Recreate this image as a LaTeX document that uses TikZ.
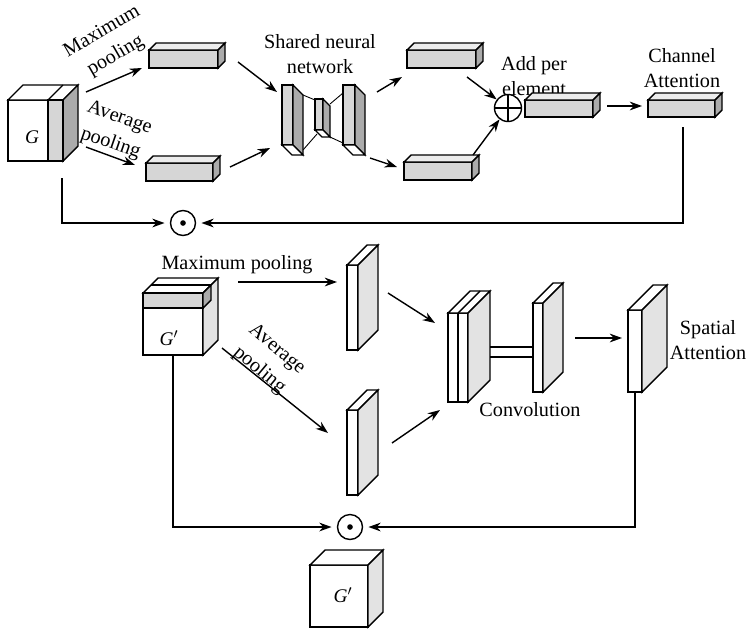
\documentclass[tikz,border=0pt]{standalone}
\usepackage{fontspec}
\setmainfont{Liberation Serif}
\usepackage{tikz}
\usetikzlibrary{arrows.meta}

\definecolor{facegray}{HTML}{D6D6D6}
\definecolor{topgray}{HTML}{ECECEC}
\definecolor{sidegray}{HTML}{ABABAB}
\definecolor{lightside}{HTML}{E3E3E3}

\tikzset{
  txt/.style={font=\fontsize{11.5}{14}\selectfont, align=center, inner sep=0pt},
  rtxt/.style={font=\fontsize{11.5}{15.5}\selectfont, align=center, inner sep=0pt},
  gtxt/.style={font=\fontsize{11}{13}\selectfont\itshape, inner sep=0pt},
  conn/.style={->, line width=0.8pt},
  odot/.style={draw, circle, line width=0.8pt, minimum size=0.5cm, inner sep=0pt},
  oplus/.style={draw, circle, line width=0.8pt, minimum size=0.54cm, inner sep=0pt,
    path picture={\draw (path picture bounding box.north) -- (path picture bounding box.south)
      (path picture bounding box.west) -- (path picture bounding box.east);}},
}

\begin{document}
\begin{tikzpicture}[x={(0.02cm,0)}, y={(0,-0.02cm)}, >={Stealth[length=7pt,width=5pt]}, line width=0.8pt]
    \useasboundingbox (0,0) rectangle (749,629);

    % box with top and right face: x, y, width, height, depth, front, top, side
    \newcommand{\featblock}[8]{
        \filldraw[fill=#6] (#1,#2) rectangle ++(#3,#4);
        \filldraw[fill=#7] (#1,#2) -- ++(#5,-#5) -- ++(#3,0) -- ++(-#5,#5) -- cycle;
        \filldraw[fill=#8] (#1+#3,#2) -- ++(#5,-#5) -- ++(0,#4) -- ++(-#5,#5) -- cycle;
    }
    % slab seen from below (shared network)
    \newcommand{\netslab}[5]{
        \filldraw[fill=facegray] (#1,#2) rectangle ++(#3,#4);
        \filldraw[fill=sidegray] (#1+#3,#2) -- ++(#5,#5) -- ++(0,#4) -- ++(-#5,-#5) -- cycle;
        \filldraw[fill=white] (#1,#2+#4) -- ++(#5,#5) -- ++(#3,0) -- ++(-#5,-#5) -- cycle;
    }

    % ---------- Channel attention (top) ----------
    % Input G
    \featblock{8}{100}{55}{61}{15}{white}{white}{sidegray}
    \filldraw[fill=facegray] (48,100) rectangle (63,161);
    \draw (48,100) -- ++(15,-15);
    \node[gtxt] (g) at (32,137) {G};

    % pooled vectors
    \featblock{149}{50}{69}{18}{7}{facegray}{topgray}{sidegray}
    \featblock{146}{163}{67}{18}{7}{facegray}{topgray}{sidegray}

    \node[rtxt, rotate=30] (lblmaxtop) at (109,44) {Maximum\\pooling};
    \node[rtxt, rotate=-19] (lblavgtop) at (115,131) {Average\\pooling};

    % shared network
    \draw[line width=0.5pt] (303,95) -- (315,100) (303,150) -- (317,134)
        (330,104) -- (343,93) (330,137) -- (343,143);
    \netslab{282}{85}{11}{60}{10}
    \netslab{315}{99}{8}{31}{7}
    \netslab{343}{85}{12}{60}{10}
    \node[txt] (lblshared) at (320,54) {Shared neural\\network};

    % network outputs
    \featblock{407}{50}{69}{18}{7}{facegray}{topgray}{sidegray}
    \featblock{404}{162}{68}{18}{7}{facegray}{topgray}{sidegray}

    \node[oplus] (plus) at (508,108) {};
    \node[txt] (lbladd) at (534,76) {Add per\\element};

    \featblock{525}{100}{68}{17}{7}{facegray}{topgray}{sidegray}
    \featblock{648}{100}{67}{17}{7}{facegray}{topgray}{sidegray}
    \node[txt] (lblchan) at (682,68) {Channel\\Attention};

    \node[odot] (dot1) at (183,223) {};
    \fill (dot1) circle (1.6pt);

    % arrow ends
    \coordinate (maxS) at (86,92);   \coordinate (maxE) at (142,68);
    \coordinate (avgS) at (86,147);  \coordinate (avgE) at (135,165);
    \coordinate (netS1) at (238,62); \coordinate (netE1) at (277,92);
    \coordinate (netS2) at (230,167); \coordinate (netE2) at (270,148);
    \coordinate (outS1) at (377,92); \coordinate (outE1) at (402,77);
    \coordinate (outS2) at (370,158); \coordinate (outE2) at (397,167);
    \coordinate (addS1) at (467,77);
    \coordinate (addS2) at (473,155);
    \coordinate (sumS) at (607,106); \coordinate (sumE) at (642,106);
    \coordinate (chanS) at (683,127);
    \coordinate (gS) at (62,178);

    \draw[conn] (maxS) -- (maxE);
    \draw[conn] (avgS) -- (avgE);
    \draw[conn] (netS1) -- (netE1);
    \draw[conn] (netS2) -- (netE2);
    \draw[conn] (outS1) -- (outE1);
    \draw[conn] (outS2) -- (outE2);
    \draw[conn] (addS1) -- (plus);
    \draw[conn] (addS2) -- (plus);
    \draw[conn] (sumS) -- (sumE);
    \draw[conn, shorten >=3pt] (chanS) |- (dot1);
    \draw[conn, shorten >=3pt] (gS) |- (dot1);

    % ---------- Spatial attention (bottom) ----------
    \featblock{143}{293}{60}{62}{15}{white}{white}{lightside}
    \filldraw[fill=facegray] (143,293) rectangle (203,308);
    \filldraw[fill=sidegray] (203,293) -- ++(8,-8) -- ++(0,15) -- ++(-8,8) -- cycle;
    \draw (151,285) -- (211,285);
    \node[gtxt] (gp) at (169,338) {G$'$};

    \node[txt] (lblmaxbot) at (237,265) {Maximum pooling};
    \node[rtxt, rotate=-40] (lblavgbot) at (268,360) {Average\\pooling};

    % pooled maps
    \featblock{347}{265}{11}{85}{20}{white}{white}{lightside}
    \featblock{347}{410}{11}{85}{20}{white}{white}{lightside}

    % convolution
    \featblock{448}{313}{20}{89}{22}{white}{white}{lightside}
    \draw (458,313) -- ++(0,89);
    \draw (458,313) -- ++(22,-22);
    \draw (490,347) -- (533,347) (490,357) -- (533,357);
    \featblock{533}{303}{10}{89}{20}{white}{white}{lightside}
    \node[txt] (lblconv) at (530,410) {Convolution};

    \featblock{628}{310}{14}{82}{25}{white}{white}{lightside}
    \node[txt] (lblspat) at (708,340) {Spatial\\Attention};

    \node[odot] (dot2) at (350,527) {};
    \fill (dot2) circle (1.6pt);

    % output G'
    \featblock{310}{565}{58}{62}{15}{white}{white}{lightside}
    \node[gtxt] (gout) at (343,595) {G$'$};

    \coordinate (bmaxS) at (238,282); \coordinate (bmaxE) at (337,282);
    \coordinate (bavgS) at (222,348); \coordinate (bavgE) at (328,433);
    \coordinate (convS1) at (388,293); \coordinate (convE1) at (435,323);
    \coordinate (convS2) at (392,443); \coordinate (convE2) at (440,410);
    \coordinate (spS) at (575,338);   \coordinate (spE) at (622,338);
    \coordinate (gpS) at (173,355);
    \coordinate (spatS) at (635,392);

    \draw[conn] (bmaxS) -- (bmaxE);
    \draw[conn] (bavgS) -- (bavgE);
    \draw[conn] (convS1) -- (convE1);
    \draw[conn] (convS2) -- (convE2);
    \draw[conn] (spS) -- (spE);
    \draw[conn, shorten >=3pt] (gpS) |- (dot2);
    \draw[conn, shorten >=3pt] (spatS) |- (dot2);
\end{tikzpicture}
\end{document}
